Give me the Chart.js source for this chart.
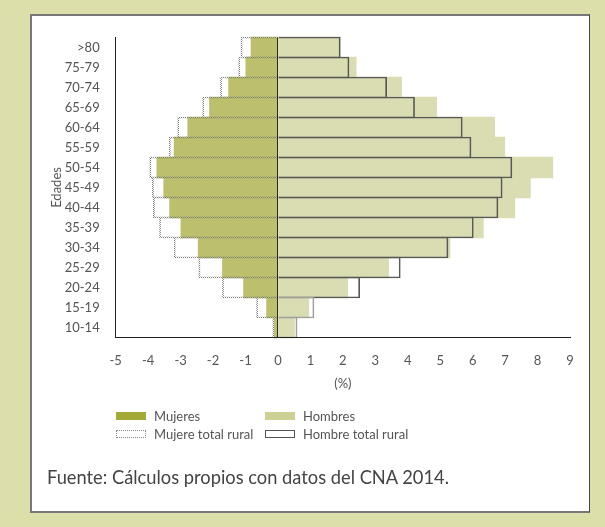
<!DOCTYPE html>
<html lang="es">
<head>
<meta charset="UTF-8" />
<title>Pirámide de edades rural</title>
<script src="https://cdn.jsdelivr.net/npm/chart.js@4"></script>
<style>
  html, body { margin: 0; padding: 0; }
  body { width: 605px; height: 527px; background: #dcdfa9; position: relative; overflow: hidden; font-family: Lato, "Open Sans", sans-serif; color: #555; }
  .panel { position: absolute; left: 30px; top: 14px; width: 557px; height: 495px; background: #fff; border: 2px solid #777; border-right: 1px solid #444; }
  canvas { position: absolute; left: 0; top: 0; }
  .legend { position: absolute; font-size: 13px; line-height: 16px; white-space: nowrap; }
  .legend .sw { position: absolute; width: 30px; height: 8px; box-sizing: border-box; }
  .legend .tx { position: absolute; }
  .source { position: absolute; left: 47px; top: 466px; font-size: 18.3px; color: #444; white-space: nowrap; }
</style>
</head>
<body>
  <div class="panel"></div>
  <canvas id="pyramid" width="605" height="527"></canvas>

  <div class="legend" style="left:116px; top:412px;">
    <div class="sw" style="left:0; top:0; background:#a3aa35;"></div>
    <div class="tx" style="left:38px; top:-4px;">Mujeres</div>
  </div>
  <div class="legend" style="left:265px; top:412px;">
    <div class="sw" style="left:0; top:0; background:#cdd093;"></div>
    <div class="tx" style="left:38px; top:-4px;">Hombres</div>
  </div>
  <div class="legend" style="left:116px; top:430px;">
    <div class="sw" style="left:0; top:0; border:1px dotted #888;"></div>
    <div class="tx" style="left:38px; top:-4px;">Mujere total rural</div>
  </div>
  <div class="legend" style="left:265px; top:430px;">
    <div class="sw" style="left:0; top:0; border:1px solid #555;"></div>
    <div class="tx" style="left:38px; top:-4px;">Hombre total rural</div>
  </div>

  <div class="source">Fuente: Cálculos propios con datos del CNA 2014.</div>

<script>
  // grupos de edad, de arriba hacia abajo
  const edades = ['>80', '75-79', '70-74', '65-69', '60-64', '55-59', '50-54', '45-49',
    '40-44', '35-39', '30-34', '25-29', '20-24', '15-19', '10-14'];

  // porcentajes (mujeres en negativo)
  const mujeres = [-0.83, -0.99, -1.52, -2.11, -2.78, -3.20, -3.73, -3.52,
    -3.34, -2.99, -2.46, -1.71, -1.06, -0.35, -0.11];
  const hombres = [1.92, 2.41, 3.81, 4.89, 6.68, 6.99, 8.47, 7.78,
    7.30, 6.33, 5.30, 3.41, 2.15, 0.95, 0.51];
  const mujeresTotalRural = [-1.14, -1.21, -1.77, -2.32, -3.09, -3.35, -3.95, -3.87,
    -3.84, -3.65, -3.20, -2.44, -1.71, -0.66, -0.16];
  const hombresTotalRural = [1.92, 2.19, 3.35, 4.21, 5.68, 5.95, 7.21, 6.91,
    6.78, 6.02, 5.24, 3.77, 2.52, 1.11, 0.59];

  const xMin = -5;
  const xMax = 9;

  // patrón punteado para el contorno de mujeres
  const dotCanvas = document.createElement('canvas');
  dotCanvas.width = 2;
  dotCanvas.height = 2;
  const dctx = dotCanvas.getContext('2d');
  dctx.fillStyle = '#7a7a7a';
  dctx.fillRect(0, 0, 1, 1);
  dctx.fillRect(1, 1, 1, 1);
  const dotted = document.getElementById('pyramid').getContext('2d').createPattern(dotCanvas, 'repeat');

  const font = { family: 'Lato, "Open Sans", sans-serif', size: 13 };
  const outline = { top: 1, bottom: 1, left: 1, right: 1 };

  new Chart(document.getElementById('pyramid'), {
    type: 'bar',
    data: {
      labels: edades,
      datasets: [
        {
          label: 'Mujere total rural',
          data: mujeresTotalRural,
          backgroundColor: 'rgba(0,0,0,0)',
          borderColor: dotted,
          borderWidth: outline,
          borderSkipped: 'start',
          order: 0
        },
        {
          label: 'Hombre total rural',
          data: hombresTotalRural,
          backgroundColor: 'rgba(0,0,0,0)',
          borderColor: ctx => ctx.dataIndex >= 13 ? '#a0a0a0' : '#585858',
          borderWidth: outline,
          borderSkipped: 'start',
          order: 0
        },
        {
          label: 'Mujeres',
          data: mujeres,
          backgroundColor: '#bcc06d',
          borderWidth: 0,
          order: 1
        },
        {
          label: 'Hombres',
          data: hombres,
          backgroundColor: '#dadcb1',
          borderWidth: 0,
          order: 1
        }
      ]
    },
    options: {
      indexAxis: 'y',
      responsive: false,
      animation: false,
      events: [],
      layout: { padding: { top: 37.5, right: 35, bottom: 0, left: 0 } },
      datasets: {
        bar: { grouped: false, barThickness: 21, clip: 3 }
      },
      plugins: {
        legend: { display: false },
        tooltip: { enabled: false }
      },
      scales: {
        x: {
          type: 'linear',
          min: xMin,
          max: xMax,
          ticks: { stepSize: 1, color: '#555', font, padding: 16 },
          grid: {
            drawTicks: false,
            z: 1,
            color: ctx => ctx.tick && ctx.tick.value === 0 ? '#2a2a2a' : 'rgba(0,0,0,0)'
          },
          border: { display: true, color: '#222', width: 1, z: 2 },
          title: { display: true, text: '(%)', color: '#555', font, padding: { top: 0, bottom: 135 } },
          afterFit: scale => { scale.height = 189.5; }
        },
        y: {
          type: 'category',
          ticks: { color: '#555', font, padding: 8 },
          grid: { display: false },
          border: { display: true, color: '#222', width: 1 },
          title: { display: true, text: 'Edades', color: '#555', font, padding: { top: 49, bottom: 0 } },
          afterFit: scale => { scale.width = 115.7; }
        }
      }
    }
  });
</script>
</body>
</html>
